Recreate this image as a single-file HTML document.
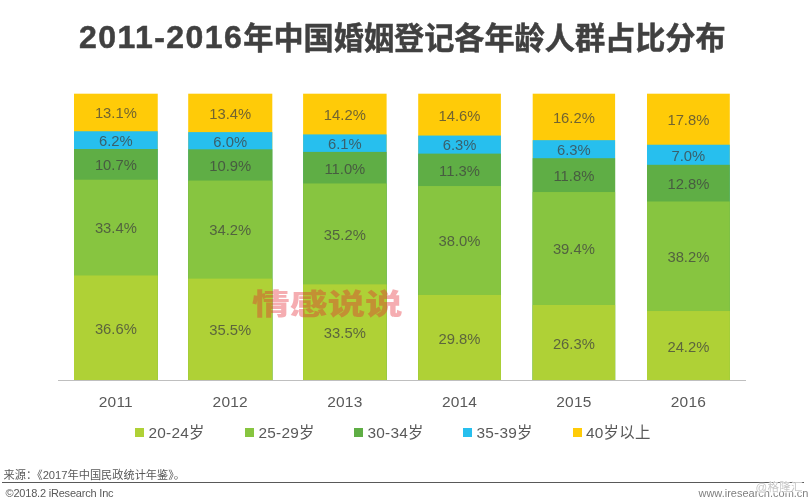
<!DOCTYPE html>
<html lang="zh"><head><meta charset="utf-8"><title>chart</title>
<style>
html,body{margin:0;padding:0;background:#fff}
#c{position:relative;width:811px;height:500px;overflow:hidden;background:#fff;font-family:"Liberation Sans","Noto Sans CJK SC",sans-serif;color:#595959}
#title{position:absolute;left:79px;top:16px;height:44px;line-height:44px;font-size:30.15px;-webkit-text-stroke:0.5px #404040;font-weight:bold;color:#404040;white-space:nowrap}
#title b{letter-spacing:1.45px;font-size:32px;position:relative;top:-1px}
.seg{position:absolute;display:flex;align-items:center;justify-content:center;font-size:14.8px;color:rgba(64,64,64,.74)}
.seg span{position:relative;top:0.9px}
.yr{position:absolute;top:392px;height:20px;line-height:20px;text-align:center;font-size:15.5px;letter-spacing:0.2px;color:#595959}
.lg{position:absolute;top:422.8px;height:20px;line-height:20px;font-size:15.4px;letter-spacing:0.25px;color:#595959;white-space:nowrap;padding-left:13.5px}
.lg i{position:absolute;left:0;top:5.4px;width:9.2px;height:9.2px}
#bars{position:absolute;left:0;top:0}
#axis{position:absolute;left:58px;top:380px;width:688px;height:1px;background:#bfbfbf}
#wm{position:absolute;left:252.3px;top:282.6px;width:150px;height:44px;line-height:44px;font-size:29px;font-weight:900;color:rgba(228,40,50,.38);white-space:nowrap;transform-origin:0 50%;transform:scaleX(1.3)}
#src{position:absolute;left:3.5px;top:466.5px;height:16px;line-height:16px;font-size:11.2px;color:#595959;white-space:nowrap}
#hr{position:absolute;left:2px;top:482px;width:802px;height:1px;background:#595959}
#cp{position:absolute;left:5.5px;top:484.5px;height:16px;line-height:16px;font-size:11px;letter-spacing:-0.2px;color:#595959;white-space:nowrap}
#url{position:absolute;right:2.5px;top:484.6px;height:16px;line-height:16px;font-size:11px;color:#7f7f7f;white-space:nowrap}
#wm2{position:absolute;left:755.5px;top:478.8px;height:16px;line-height:16px;font-size:11.5px;letter-spacing:0.3px;color:#c8c8c8;white-space:nowrap;text-shadow:0 0 1px #fff,0 0 2px #fff,1px 1px 1px #fff}
</style></head><body>
<div id="c">
<div id="title"><b>2011-2016</b>年中国婚姻登记各年龄人群占比分布</div>
<svg id="bars" width="811" height="500" viewBox="0 0 811 500"><rect x="74.00" y="93.70" width="83.75" height="286.70" fill="#FFCB08"/><rect x="74.00" y="131.26" width="83.75" height="249.14" fill="#27BFEE"/><rect x="74.00" y="149.03" width="83.75" height="231.37" fill="#5FAE45"/><rect x="74.00" y="179.71" width="83.75" height="200.69" fill="#87C540"/><rect x="74.00" y="275.47" width="83.75" height="104.93" fill="#AFD136"/><rect x="188.20" y="93.70" width="84.10" height="286.70" fill="#FFCB08"/><rect x="188.20" y="132.12" width="84.10" height="248.28" fill="#27BFEE"/><rect x="188.20" y="149.32" width="84.10" height="231.08" fill="#5FAE45"/><rect x="188.20" y="180.57" width="84.10" height="199.83" fill="#87C540"/><rect x="188.20" y="278.62" width="84.10" height="101.78" fill="#AFD136"/><rect x="303.10" y="93.70" width="83.50" height="286.70" fill="#FFCB08"/><rect x="303.10" y="134.41" width="83.50" height="245.99" fill="#27BFEE"/><rect x="303.10" y="151.90" width="83.50" height="228.50" fill="#5FAE45"/><rect x="303.10" y="183.44" width="83.50" height="196.96" fill="#87C540"/><rect x="303.10" y="284.36" width="83.50" height="96.04" fill="#AFD136"/><rect x="418.20" y="93.70" width="82.70" height="286.70" fill="#FFCB08"/><rect x="418.20" y="135.56" width="82.70" height="244.84" fill="#27BFEE"/><rect x="418.20" y="153.62" width="82.70" height="226.78" fill="#5FAE45"/><rect x="418.20" y="186.02" width="82.70" height="194.38" fill="#87C540"/><rect x="418.20" y="294.96" width="82.70" height="85.44" fill="#AFD136"/><rect x="532.70" y="93.70" width="82.40" height="286.70" fill="#FFCB08"/><rect x="532.70" y="140.15" width="82.40" height="240.25" fill="#27BFEE"/><rect x="532.70" y="158.21" width="82.40" height="222.19" fill="#5FAE45"/><rect x="532.70" y="192.04" width="82.40" height="188.36" fill="#87C540"/><rect x="532.70" y="305.00" width="82.40" height="75.40" fill="#AFD136"/><rect x="647.00" y="93.70" width="82.80" height="286.70" fill="#FFCB08"/><rect x="647.00" y="144.73" width="82.80" height="235.67" fill="#27BFEE"/><rect x="647.00" y="164.80" width="82.80" height="215.60" fill="#5FAE45"/><rect x="647.00" y="201.50" width="82.80" height="178.90" fill="#87C540"/><rect x="647.00" y="311.02" width="82.80" height="69.38" fill="#AFD136"/></svg>
<div class="seg" style="left:74.00px;top:275.47px;width:83.75px;height:104.93px"><span>36.6%</span></div>
<div class="seg" style="left:74.00px;top:179.71px;width:83.75px;height:95.76px"><span>33.4%</span></div>
<div class="seg" style="left:74.00px;top:149.03px;width:83.75px;height:30.68px"><span>10.7%</span></div>
<div class="seg" style="left:74.00px;top:131.26px;width:83.75px;height:17.78px"><span>6.2%</span></div>
<div class="seg" style="left:74.00px;top:93.70px;width:83.75px;height:37.56px"><span>13.1%</span></div>
<div class="yr" style="left:74.00px;width:83.75px">2011</div>
<div class="seg" style="left:188.20px;top:278.62px;width:84.10px;height:101.78px"><span>35.5%</span></div>
<div class="seg" style="left:188.20px;top:180.57px;width:84.10px;height:98.05px"><span>34.2%</span></div>
<div class="seg" style="left:188.20px;top:149.32px;width:84.10px;height:31.25px"><span>10.9%</span></div>
<div class="seg" style="left:188.20px;top:132.12px;width:84.10px;height:17.20px"><span>6.0%</span></div>
<div class="seg" style="left:188.20px;top:93.70px;width:84.10px;height:38.42px"><span>13.4%</span></div>
<div class="yr" style="left:188.20px;width:84.10px">2012</div>
<div class="seg" style="left:303.10px;top:284.36px;width:83.50px;height:96.04px"><span>33.5%</span></div>
<div class="seg" style="left:303.10px;top:183.44px;width:83.50px;height:100.92px"><span>35.2%</span></div>
<div class="seg" style="left:303.10px;top:151.90px;width:83.50px;height:31.54px"><span>11.0%</span></div>
<div class="seg" style="left:303.10px;top:134.41px;width:83.50px;height:17.49px"><span>6.1%</span></div>
<div class="seg" style="left:303.10px;top:93.70px;width:83.50px;height:40.71px"><span>14.2%</span></div>
<div class="yr" style="left:303.10px;width:83.50px">2013</div>
<div class="seg" style="left:418.20px;top:294.96px;width:82.70px;height:85.44px"><span>29.8%</span></div>
<div class="seg" style="left:418.20px;top:186.02px;width:82.70px;height:108.95px"><span>38.0%</span></div>
<div class="seg" style="left:418.20px;top:153.62px;width:82.70px;height:32.40px"><span>11.3%</span></div>
<div class="seg" style="left:418.20px;top:135.56px;width:82.70px;height:18.06px"><span>6.3%</span></div>
<div class="seg" style="left:418.20px;top:93.70px;width:82.70px;height:41.86px"><span>14.6%</span></div>
<div class="yr" style="left:418.20px;width:82.70px">2014</div>
<div class="seg" style="left:532.70px;top:305.00px;width:82.40px;height:75.40px"><span>26.3%</span></div>
<div class="seg" style="left:532.70px;top:192.04px;width:82.40px;height:112.96px"><span>39.4%</span></div>
<div class="seg" style="left:532.70px;top:158.21px;width:82.40px;height:33.83px"><span>11.8%</span></div>
<div class="seg" style="left:532.70px;top:140.15px;width:82.40px;height:18.06px"><span>6.3%</span></div>
<div class="seg" style="left:532.70px;top:93.70px;width:82.40px;height:46.45px"><span>16.2%</span></div>
<div class="yr" style="left:532.70px;width:82.40px">2015</div>
<div class="seg" style="left:647.00px;top:311.02px;width:82.80px;height:69.38px"><span>24.2%</span></div>
<div class="seg" style="left:647.00px;top:201.50px;width:82.80px;height:109.52px"><span>38.2%</span></div>
<div class="seg" style="left:647.00px;top:164.80px;width:82.80px;height:36.70px"><span>12.8%</span></div>
<div class="seg" style="left:647.00px;top:144.73px;width:82.80px;height:20.07px"><span>7.0%</span></div>
<div class="seg" style="left:647.00px;top:93.70px;width:82.80px;height:51.03px"><span>17.8%</span></div>
<div class="yr" style="left:647.00px;width:82.80px">2016</div>
<div class="lg" style="left:135px"><i style="background:#AFD136"></i>20-24岁</div>
<div class="lg" style="left:245px"><i style="background:#87C540"></i>25-29岁</div>
<div class="lg" style="left:354px"><i style="background:#5FAE45"></i>30-34岁</div>
<div class="lg" style="left:463px"><i style="background:#27BFEE"></i>35-39岁</div>
<div class="lg" style="left:572.5px"><i style="background:#FFCB08"></i>40岁以上</div>
<div id="axis"></div>
<div id="wm">情感说说</div>
<div id="src">来源：《2017年中国民政统计年鉴》。</div>
<div id="hr"></div>
<div id="cp">©2018.2 iResearch Inc</div>
<div id="url">www.iresearch.com.cn</div>
<div id="wm2">@格隆汇</div>
</div>
</body></html>
